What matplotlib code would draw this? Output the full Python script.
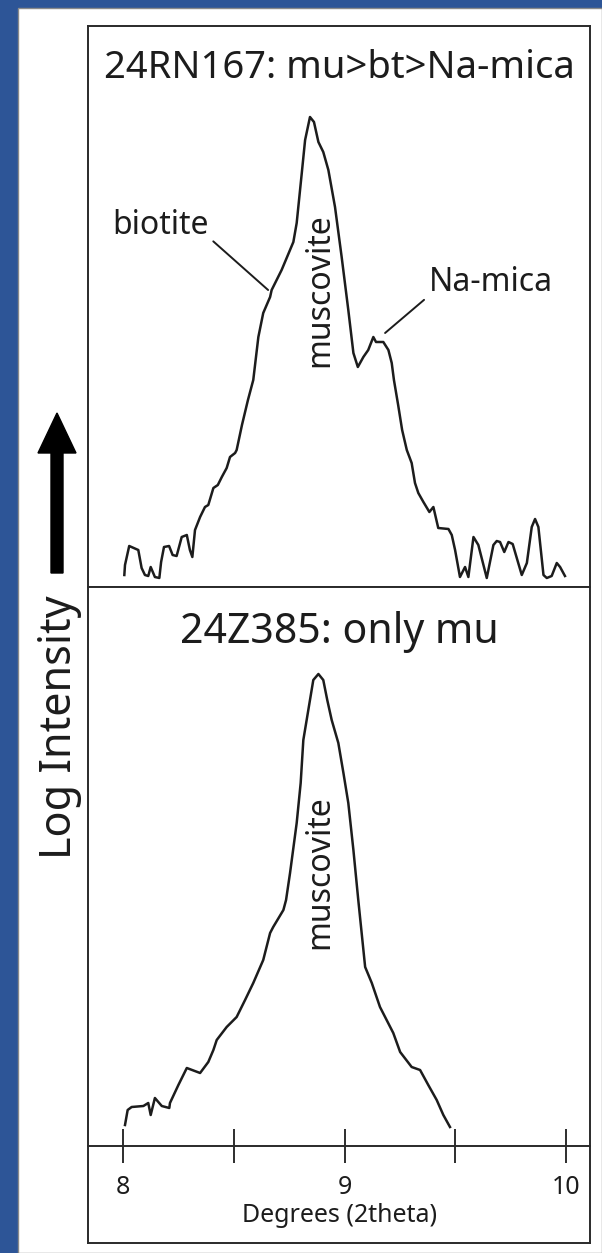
import numpy as np
import matplotlib
matplotlib.use("Agg")
import matplotlib.pyplot as plt
from matplotlib.patches import Rectangle, FancyArrow

plt.rcParams['font.family'] = ['Noto Sans', 'DejaVu Sans']

# --- data (2theta in degrees, log intensity in arbitrary units) ---
top_title = "24RN167: mu>bt>Na-mica"
bot_title = "24Z385: only mu"

top_deg = [8.006, 8.009, 8.028, 8.069, 8.084, 8.099, 8.114, 8.125, 8.144, 8.164,
           8.172, 8.185, 8.208, 8.224, 8.242, 8.265, 8.288, 8.302, 8.313, 8.325,
           8.348, 8.370, 8.385, 8.408, 8.428, 8.446, 8.468, 8.483, 8.506, 8.513,
           8.537, 8.564, 8.588, 8.611, 8.633, 8.664, 8.671, 8.716, 8.769, 8.784,
           8.807, 8.822, 8.844, 8.862, 8.882, 8.904, 8.927, 8.957, 8.987, 9.017,
           9.040, 9.060, 9.085, 9.107, 9.130, 9.142, 9.175, 9.198, 9.213, 9.223,
           9.242, 9.260, 9.281, 9.303, 9.318, 9.333, 9.356, 9.383, 9.401, 9.423,
           9.469, 9.484, 9.499, 9.521, 9.544, 9.559, 9.582, 9.604, 9.642, 9.672,
           9.687, 9.702, 9.721, 9.740, 9.759, 9.800, 9.823, 9.845, 9.860, 9.875,
           9.898, 9.913, 9.935, 9.958, 9.973, 9.995]
top_int = [0.12, 0.22, 0.41, 0.37, 0.19, 0.12, 0.11, 0.20, 0.10, 0.09,
           0.25, 0.40, 0.41, 0.32, 0.31, 0.50, 0.52, 0.37, 0.30, 0.57,
           0.70, 0.80, 0.82, 0.99, 1.02, 1.10, 1.19, 1.30, 1.34, 1.37,
           1.62, 1.87, 2.07, 2.50, 2.74, 2.90, 2.97, 3.17, 3.45, 3.64,
           4.14, 4.47, 4.70, 4.65, 4.45, 4.35, 4.17, 3.80, 3.30, 2.77,
           2.34, 2.20, 2.30, 2.37, 2.50, 2.45, 2.45, 2.37, 2.24, 2.07,
           1.82, 1.57, 1.37, 1.24, 1.04, 0.94, 0.85, 0.75, 0.80, 0.59,
           0.58, 0.52, 0.37, 0.10, 0.20, 0.10, 0.50, 0.42, 0.09, 0.42,
           0.46, 0.45, 0.35, 0.45, 0.43, 0.12, 0.24, 0.60, 0.68, 0.60,
           0.12, 0.09, 0.11, 0.24, 0.20, 0.11]

bot_deg = [8.009, 8.021, 8.039, 8.092, 8.114, 8.125, 8.144, 8.175, 8.209, 8.212,
           8.250, 8.288, 8.348, 8.385, 8.408, 8.423, 8.468, 8.513, 8.551, 8.588,
           8.633, 8.664, 8.678, 8.724, 8.736, 8.754, 8.784, 8.802, 8.814, 8.844,
           8.859, 8.882, 8.904, 8.922, 8.942, 8.972, 8.995, 9.017, 9.040, 9.062,
           9.093, 9.123, 9.160, 9.220, 9.251, 9.303, 9.341, 9.378, 9.416, 9.446,
           9.476]
bot_int = [0.21, 0.36, 0.39, 0.40, 0.43, 0.31, 0.48, 0.40, 0.38, 0.43,
           0.61, 0.78, 0.73, 0.84, 0.96, 1.06, 1.19, 1.29, 1.46, 1.63,
           1.86, 2.13, 2.19, 2.36, 2.46, 2.73, 3.23, 3.63, 4.06, 4.46,
           4.66, 4.72, 4.66, 4.46, 4.26, 4.03, 3.73, 3.43, 2.96, 2.46,
           1.79, 1.63, 1.39, 1.13, 0.94, 0.79, 0.76, 0.61, 0.46, 0.31,
           0.19]

xticks = [8, 8.5, 9, 9.5, 10]
xticklabels = ['8', '', '9', '', '10']

# --- layout (pixels) ---
W, H = 602, 1253
blue = '#2d5597'
ink = '#1c1c1c'

fig = plt.figure(figsize=(W / 100, H / 100), dpi=100, facecolor=blue)
fig.patches.append(Rectangle((18 / W, 0), 1 - 18 / W, (H - 8) / H, transform=fig.transFigure,
                             facecolor='white', edgecolor='#8a8a8a', linewidth=1, zorder=-10))

xlim = (7.842, 10.108)
ax1 = fig.add_axes([88 / W, (H - 587) / H, 502 / W, 561 / H])
ax2 = fig.add_axes([88 / W, (H - 1243) / H, 502 / W, 656 / H])

for ax in (ax1, ax2):
    ax.set_xlim(*xlim)
    ax.set_xticks([])
    ax.set_yticks([])
    for s in ax.spines.values():
        s.set_linewidth(1.4)
        s.set_color('#2a2a2a')

ax1.set_ylim(0, 5.61)
ax2.set_ylim(-0.97, 5.59)

ax1.plot(top_deg, top_int, color=ink, lw=1.8)
ax2.plot(bot_deg, bot_int, color=ink, lw=1.8)

# inner x axis of the lower panel
y0, y1 = ax2.get_ylim()
sec = ax2.secondary_xaxis((0 - y0) / (y1 - y0))
sec.set_xticks(xticks)
sec.set_xticklabels(xticklabels)
sec.tick_params(direction='inout', length=24, width=1.3, labelsize=18, pad=9, colors=ink)
sec.spines['bottom'].set_linewidth(1.4)
sec.spines['bottom'].set_color('#2a2a2a')
sec.set_xlabel('Degrees (2theta)', fontsize=18, labelpad=2, color=ink)

# titles
ax1.text(0.5, 0.907, top_title, transform=ax1.transAxes, ha='center', va='baseline',
         fontsize=27.5, color=ink)
ax2.text(0.5, 0.9146, bot_title, transform=ax2.transAxes, ha='center', va='baseline',
         fontsize=29.5, color=ink)

# peak labels
ax1.annotate('biotite', xy=(8.655, 2.97), xytext=(7.950, 3.53), ha='left', va='baseline',
             fontsize=23, color=ink,
             arrowprops=dict(arrowstyle='-', color=ink, lw=1.4, relpos=(1.0, 0.15),
                             shrinkA=2, shrinkB=0))
ax1.annotate('Na-mica', xy=(9.183, 2.54), xytext=(9.381, 2.96), ha='left', va='baseline',
             fontsize=23, color=ink,
             arrowprops=dict(arrowstyle='-', color=ink, lw=1.4, relpos=(0.0, 0.1),
                             shrinkA=2, shrinkB=0))
ax1.text(8.889, 2.97, 'muscovite', rotation=90, ha='center', va='center', fontsize=23, color=ink)
ax2.text(8.889, 2.74, 'muscovite', rotation=90, ha='center', va='center', fontsize=23, color=ink)

# y axis legend: arrow + label
fig.add_artist(FancyArrow(0.57, (H - 573) / 100, 0, 1.60, width=0.12, head_width=0.38,
                          head_length=0.40, length_includes_head=True, color='black',
                          transform=fig.dpi_scale_trans))
fig.text(60 / W, (H - 727) / H, 'Log Intensity', rotation=90, ha='center', va='center',
         fontsize=31, color=ink)

fig.savefig('out.png', dpi=100, facecolor=blue)
